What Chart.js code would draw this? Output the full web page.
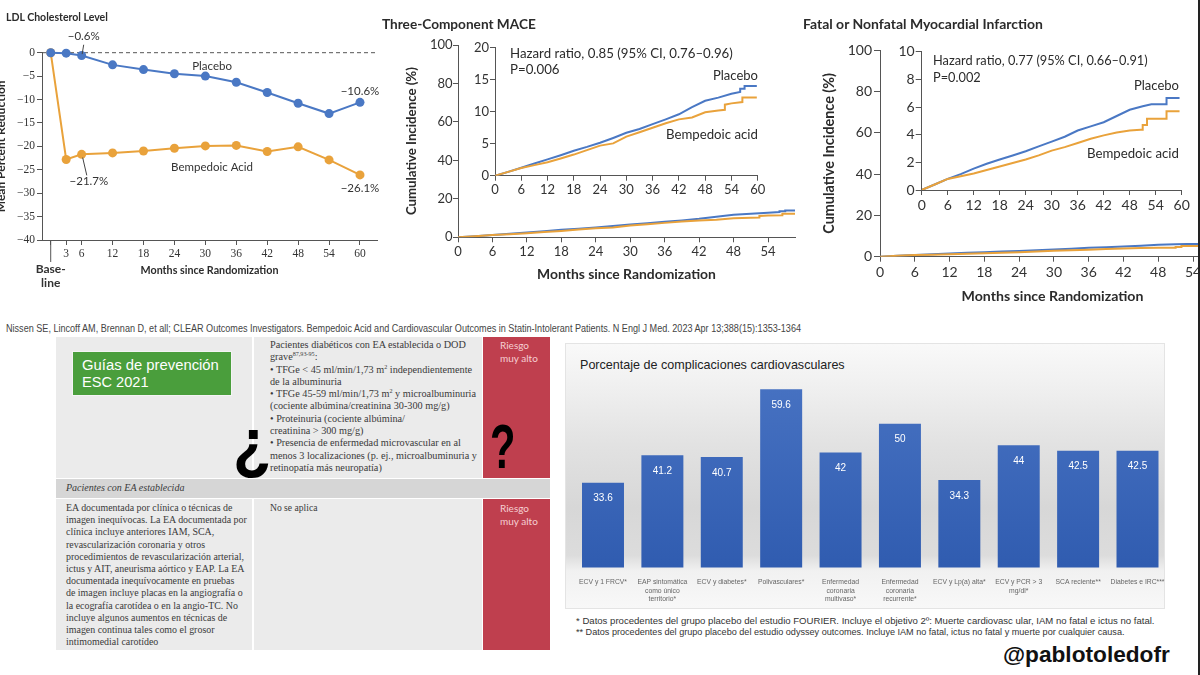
<!DOCTYPE html>
<html lang="es">
<head>
<meta charset="utf-8">
<title>CLEAR Outcomes y complicaciones cardiovasculares</title>
<script src="https://cdn.jsdelivr.net/npm/chart.js@4.4.1/dist/chart.umd.min.js"></script>
<style>
  html, body { margin: 0; padding: 0; background: #fff; }
  body { position: relative; width: 1200px; height: 675px; overflow: hidden; font-family: Lato, "Liberation Sans", sans-serif; color: #2b2b2b; }
  canvas, .t, .box, .lines, .glyph { position: absolute; }
  .t { white-space: nowrap; line-height: 1; transform: translateY(-50%); }
  .b { font-weight: bold; }
  .arial { font-family: "Liberation Sans", Arial, sans-serif; }
  .narrow { font-family: "Liberation Sans Narrow", "Arial Narrow", "Liberation Sans", sans-serif; transform-origin: left center; }
  .lines { font-family: "Liberation Serif", "DejaVu Serif", serif; color: #3a3a3a; white-space: nowrap; font-size: 10px; }
  .lines sup { font-size: 0.6em; line-height: 0; }
  .red { background: #bf3f4e; }
  .grey { background: #ebebeb; }
  .risk { font-family: Lato, sans-serif; color: #f6cfd3; font-size: 10px; line-height: 12.5px; }
  .glyph { font-family: "Liberation Sans", Arial, sans-serif; font-weight: bold; line-height: 1; color: #000; transform-origin: left top; }
</style>
</head>
<body>

<!-- CLEAR Outcomes charts -->
<canvas id="ldlChart" width="402" height="300" style="left:-12px;top:0"></canvas>
<canvas id="maceMain" width="420" height="270" style="left:380px;top:30px"></canvas>
<canvas id="maceInset" width="340" height="170" style="left:440px;top:35px"></canvas>
<canvas id="miMain" width="425" height="285" style="left:800px;top:30px"></canvas>
<canvas id="miInset" width="345" height="185" style="left:860px;top:35px"></canvas>

<div class="t b" data-w="102" style="left:6px;top:17px;font-size:12px">LDL Cholesterol Level</div>
<div class="t b" data-w="154" style="left:382px;top:25px;font-size:14px">Three-Component MACE</div>
<div class="t b" data-w="240" style="left:803px;top:24px;font-size:14px">Fatal or Nonfatal Myocardial Infarction</div>

<div class="t" id="hrMace" data-w="223" style="left:510px;top:54px;font-size:13px">Hazard ratio, 0.85 (95% CI, 0.76–0.96)</div>
<div class="t" data-like="hrMace" style="left:510px;top:70px;font-size:13px">P=0.006</div>
<div class="t" data-w="45" style="left:713px;top:76px;font-size:13px">Placebo</div>
<div class="t" data-w="92" style="left:666px;top:135px;font-size:13px">Bempedoic acid</div>

<div class="t" id="hrMi" data-w="215" style="left:933px;top:60px;font-size:13px">Hazard ratio, 0.77 (95% CI, 0.66–0.91)</div>
<div class="t" data-like="hrMi" style="left:933px;top:77px;font-size:13px">P=0.002</div>
<div class="t" data-w="45" style="left:1134px;top:86px;font-size:13px">Placebo</div>
<div class="t" data-w="92" style="left:1087px;top:154px;font-size:13px">Bempedoic acid</div>

<div class="t narrow" data-sx="795" style="left:6px;top:328px;font-size:10.5px;color:#444">Nissen SE, Lincoff AM, Brennan D, et all; CLEAR Outcomes Investigators. Bempedoic Acid and Cardiovascular Outcomes in Statin-Intolerant Patients. N Engl J Med. 2023 Apr 13;388(15):1353-1364</div>

<!-- ESC 2021 table -->
<div class="box grey" style="left:56px;top:337px;width:196px;height:141px"></div>
<div class="box grey" style="left:254px;top:337px;width:228px;height:141px"></div>
<div class="box red" style="left:483px;top:337px;width:67px;height:141px"></div>
<div class="box" style="left:56px;top:479px;width:494px;height:19px;background:#d6d6d6"></div>
<div class="box grey" style="left:56px;top:499px;width:196px;height:151px"></div>
<div class="box grey" style="left:254px;top:499px;width:228px;height:151px"></div>
<div class="box red" style="left:483px;top:499px;width:67px;height:151px"></div>

<div class="box" style="left:72px;top:351px;width:158px;height:43px;background:#4a9e3c;border:1px solid #f4f4f4"></div>
<div class="t arial" data-w="137" style="left:82px;top:365px;font-size:15px;color:#fff">Guías de prevención</div>
<div class="t arial" style="left:82px;top:382px;font-size:14.6px;color:#fff">ESC 2021</div>

<div class="lines" data-wide="207" style="left:270px;top:339px;line-height:12.3px">
  <div><span class="ln">Pacientes diabéticos con EA establecida o DOD</span></div>
  <div><span class="ln">grave<sup>87,93-95</sup>:</span></div>
  <div><span class="ln">• TFGe &lt; 45 ml/min/1,73 m<sup>2</sup> independientemente</span></div>
  <div><span class="ln">de la albuminuria</span></div>
  <div><span class="ln">• TFGe 45-59 ml/min/1,73 m<sup>2</sup> y microalbuminuria</span></div>
  <div><span class="ln">(cociente albúmina/creatinina 30-300 mg/g)</span></div>
  <div><span class="ln">• Proteinuria (cociente albúmina/</span></div>
  <div><span class="ln">creatinina &gt; 300 mg/g)</span></div>
  <div><span class="ln">• Presencia de enfermedad microvascular en al</span></div>
  <div><span class="ln">menos 3 localizaciones (p. ej., microalbuminuria y</span></div>
  <div><span class="ln">retinopatía más neuropatía)</span></div>
</div>
<div class="risk" style="position:absolute;left:500px;top:339px">Riesgo<br>muy alto</div>

<div class="lines" style="left:66px;top:482px;font-style:italic;line-height:12px">Pacientes con EA establecida</div>

<div class="lines" data-wide="181" style="left:66px;top:502px;line-height:12.2px">
  <div><span class="ln">EA documentada por clínica o técnicas de</span></div>
  <div><span class="ln">imagen inequívocas. La EA documentada por</span></div>
  <div><span class="ln">clínica incluye anteriores IAM, SCA,</span></div>
  <div><span class="ln">revascularización coronaria y otros</span></div>
  <div><span class="ln">procedimientos de revascularización arterial,</span></div>
  <div><span class="ln">ictus y AIT, aneurisma aórtico y EAP. La EA</span></div>
  <div><span class="ln">documentada inequívocamente en pruebas</span></div>
  <div><span class="ln">de imagen incluye placas en la angiografía o</span></div>
  <div><span class="ln">la ecografía carotídea o en la angio-TC. No</span></div>
  <div><span class="ln">incluye algunos aumentos en técnicas de</span></div>
  <div><span class="ln">imagen continua tales como el grosor</span></div>
  <div><span class="ln">intimomedial carotídeo</span></div>
</div>
<div class="lines" style="left:270px;top:502px;line-height:12.2px;font-size:9.6px">No se aplica</div>
<div class="risk" style="position:absolute;left:500px;top:502px">Riesgo<br>muy alto</div>

<div class="glyph" style="left:233px;top:408px;font-size:68px;transform:scaleX(0.92)">¿</div>
<div class="glyph" style="left:490px;top:415px;font-size:63px;transform:scaleX(0.66)">?</div>

<!-- bar chart panel -->
<div class="box" style="left:565px;top:343px;width:598px;height:264px;border:1px solid #e4e4e4;
  background:linear-gradient(180deg,#f9f9f9 0%,#f1f1f1 14%,#e2e2e2 38%,#d7d7d7 62%,#dcdcdc 80%,#f1f1f1 86%,#f8f8f8 100%)"></div>
<div class="t arial" data-w="265" style="left:580px;top:365px;font-size:13px;color:#222">Porcentaje de complicaciones cardiovasculares</div>
<canvas id="barChart" width="610" height="265" style="left:565px;top:343px"></canvas>
<div class="t arial" data-w="579" style="left:576px;top:620.5px;font-size:9px;color:#333">* Datos procedentes del grupo placebo del estudio FOURIER. Incluye el objetivo 2º: Muerte cardiovasc ular, IAM no fatal e ictus no fatal.</div>
<div class="t arial" data-w="549" style="left:576px;top:632.6px;font-size:9px;color:#333">** Datos procedentes del grupo placebo del estudio odyssey outcomes. Incluye IAM no fatal, ictus no fatal y muerte por cualquier causa.</div>

<div class="t arial b" data-w="167" style="left:1003px;top:654px;font-size:22px;color:#111">@pablotoledofr</div>
<div class="box" style="left:1198px;top:0;width:2px;height:675px;background:#222"></div>

<script>
// --- data ---

// LDL cholesterol, mean percent change from baseline
const ldlMonths = [0, 3, 6, 12, 18, 24, 30, 36, 42, 48, 54, 60];
const ldlPlacebo = [0, -0.1, -0.6, -2.6, -3.6, -4.5, -5.0, -6.3, -8.5, -10.8, -13.0, -10.6];
const ldlBempedoic = [0, -22.8, -21.7, -21.4, -21.0, -20.4, -19.9, -19.8, -21.1, -20.1, -22.9, -26.1];

// three-component MACE, cumulative incidence (%)
const macePlaceboMonths = [0, 3, 6, 9, 12, 15, 18, 21, 24, 27, 30, 33, 36, 39, 42, 45, 48, 51, 54, 56, 56, 57, 57, 59.8];
const macePlacebo = [0, 0.6, 1.25, 1.9, 2.55, 3.2, 3.9, 4.5, 5.15, 5.9, 6.7, 7.3, 8.05, 8.8, 9.6, 10.7, 11.7, 12.2, 12.8, 13.1, 13.6, 13.6, 14.0, 14.0];
const maceBempedoicMonths = [0, 3, 6, 9, 12, 15, 18, 21, 24, 27, 30, 33, 36, 39, 42, 45, 48, 51, 52.5, 52.5, 54, 56.5, 56.5, 59.8];
const maceBempedoic = [0, 0.6, 1.2, 1.65, 2.1, 2.7, 3.3, 4.0, 4.7, 5.05, 6.1, 6.8, 7.5, 8.2, 8.8, 9.1, 9.9, 10.2, 10.3, 11.1, 11.3, 11.5, 12.2, 12.2];

// fatal or nonfatal MI, cumulative incidence (%)
const miPlaceboMonths = [0, 3, 6, 9, 12, 15, 18, 21, 24, 27, 30, 33, 36, 39, 42, 45, 48, 51, 53, 56.5, 56.5, 59.5];
const miPlacebo = [0, 0.4, 0.8, 1.15, 1.55, 1.9, 2.2, 2.5, 2.8, 3.15, 3.5, 3.85, 4.3, 4.6, 4.9, 5.35, 5.8, 6.05, 6.2, 6.2, 6.65, 6.65];
const miBempedoicMonths = [0, 3, 6, 9, 12, 15, 18, 21, 24, 27, 30, 33, 36, 39, 42, 45, 48, 50.5, 51, 51, 52, 52, 56.5, 56.5, 59.5];
const miBempedoic = [0, 0.4, 0.8, 1.0, 1.2, 1.45, 1.7, 1.95, 2.2, 2.5, 2.85, 3.1, 3.4, 3.7, 3.95, 4.15, 4.3, 4.35, 4.35, 4.7, 4.7, 5.15, 5.15, 5.7, 5.7];

const kmTicksMain = [0, 6, 12, 18, 24, 30, 36, 42, 48, 54];
const kmTicksInset = [0, 6, 12, 18, 24, 30, 36, 42, 48, 54, 60];

// porcentaje de complicaciones cardiovasculares
const complicationLabels = [
  ['ECV y 1 FRCV*'],
  ['EAP sintomática', 'como único', 'territorio*'],
  ['ECV y diabetes*'],
  ['Polivasculares*'],
  ['Enfermedad', 'coronaria', 'multivaso*'],
  ['Enfermedad', 'coronaria', 'recurrente*'],
  ['ECV y Lp(a) alta*'],
  ['ECV y PCR > 3', 'mg/dl*'],
  ['SCA reciente**'],
  ['Diabetes e IRC***']
];
const complicationValues = [33.6, 41.2, 40.7, 59.6, 42, 50, 34.3, 44, 42.5, 42.5];

// text notes on the LDL panel, in data units (month, percent)
const ldlNotes = [
  { text: '−0.6%', month: 6.4, value: 3.4 },
  { text: 'Placebo', month: 31.3, value: -2.9 },
  { text: '−10.6%', month: 60, value: -8.2 },
  { text: 'Bempedoic Acid', month: 31.3, value: -24.4 },
  { text: '−21.7%', month: 7.4, value: -27.4 },
  { text: '−26.1%', month: 60, value: -28.9 }
];
const ldlLeaders = [
  { from: [6.1, -0.3], to: [6.4, 1.7] },
  { from: [6.2, -22.4], to: [7.0, -26.2] }
];

// --- helpers ---

document.querySelectorAll('[data-w]').forEach(function(el) {
  const target = parseFloat(el.dataset.w);
  const size = parseFloat(getComputedStyle(el).fontSize);
  el.style.fontSize = (size * target / el.getBoundingClientRect().width) + 'px';
});
document.querySelectorAll('[data-like]').forEach(function(el) {
  el.style.fontSize = document.getElementById(el.dataset.like).style.fontSize;
});
document.querySelectorAll('[data-sx]').forEach(function(el) {
  const k = parseFloat(el.dataset.sx) / el.getBoundingClientRect().width;
  el.style.transform = 'translateY(-50%) scaleX(' + k + ')';
});
document.querySelectorAll('[data-wide]').forEach(function(block) {
  const target = parseFloat(block.dataset.wide);
  const size = parseFloat(getComputedStyle(block).fontSize);
  let widest = 0;
  block.querySelectorAll('.ln').forEach(s => { widest = Math.max(widest, s.getBoundingClientRect().width); });
  block.style.fontSize = (size * target / widest) + 'px';
});

const measureCtx = document.createElement('canvas').getContext('2d');
function fitSize(text, weight, family, width) {
  measureCtx.font = weight + ' 20px ' + family;
  return 20 * width / measureCtx.measureText(text).width;
}

function boxSize(size) {
  return function(scale) {
    if (scale.isHorizontal()) scale.height = size; else scale.width = size;
    scale.paddingLeft = 0; scale.paddingRight = 0; scale.paddingTop = 0; scale.paddingBottom = 0;
  };
}
function fixedTicks(values) {
  return function(scale) { scale.ticks = values.map(v => ({ value: v })); };
}
function pairs(xs, ys) {
  return xs.map((x, i) => ({ x: x, y: ys[i] }));
}

const SANS = 'Lato, "Liberation Sans", sans-serif';
const SERIF = '"Liberation Serif", "DejaVu Serif", serif';
const blue = '#4a78c4';
const orange = '#e9a23b';
const axisColor = '#555';

Chart.defaults.animation = false;
Chart.defaults.responsive = false;
Chart.defaults.devicePixelRatio = 1;
Chart.defaults.plugins.legend.display = false;
Chart.defaults.plugins.tooltip.enabled = false;
Chart.defaults.color = '#333';
Chart.defaults.font.family = SANS;

// --- LDL cholesterol ---

const ldlPlugin = {
  id: 'ldlNotes',
  beforeDatasetsDraw(chart) {
    const { ctx, chartArea, scales: { y } } = chart;
    ctx.save();
    ctx.strokeStyle = '#555';
    ctx.lineWidth = 1;
    ctx.setLineDash([4, 3]);
    ctx.beginPath();
    ctx.moveTo(chartArea.left, y.getPixelForValue(0));
    ctx.lineTo(chartArea.right, y.getPixelForValue(0));
    ctx.stroke();
    ctx.restore();
  },
  afterDraw(chart) {
    const { ctx, scales: { x, y } } = chart;
    ctx.save();
    ctx.strokeStyle = axisColor;
    ctx.lineWidth = 1;
    const bx = x.getPixelForValue(0);
    ctx.beginPath();
    ctx.moveTo(bx, y.bottom);
    ctx.lineTo(bx, y.bottom + 22);
    ctx.stroke();

    ctx.strokeStyle = '#444';
    ldlLeaders.forEach(function(l) {
      ctx.beginPath();
      ctx.moveTo(x.getPixelForValue(l.from[0]), y.getPixelForValue(l.from[1]));
      ctx.lineTo(x.getPixelForValue(l.to[0]), y.getPixelForValue(l.to[1]));
      ctx.stroke();
    });

    ctx.fillStyle = '#333';
    ctx.font = '11.5px ' + SANS;
    ctx.textAlign = 'center';
    ctx.textBaseline = 'middle';
    ldlNotes.forEach(n => ctx.fillText(n.text, x.getPixelForValue(n.month), y.getPixelForValue(n.value)));
    ctx.restore();
  }
};

new Chart(document.getElementById('ldlChart'), {
  type: 'line',
  data: {
    datasets: [
      { data: pairs(ldlMonths, ldlPlacebo), borderColor: blue, backgroundColor: blue, borderWidth: 2,
        pointRadius: 4.5, pointBorderWidth: 0, clip: false },
      { data: pairs(ldlMonths, ldlBempedoic), borderColor: orange, backgroundColor: orange, borderWidth: 2,
        pointRadius: 4.5, pointBorderWidth: 0, clip: false }
    ]
  },
  options: {
    layout: { padding: { left: 0, top: 52.7, right: 13, bottom: 0 } },
    scales: {
      x: {
        type: 'linear', min: -1.69, max: 63.3,
        afterBuildTicks: fixedTicks(ldlMonths),
        afterFit: boxSize(60),
        grid: { drawOnChartArea: false, tickLength: 5, color: axisColor },
        border: { color: axisColor },
        ticks: {
          autoSkip: false, maxRotation: 0, minRotation: 0,
          padding: 2.4,
          color: '#333',
          callback: v => v === 0 ? ['', 'Base-', 'line'] : String(v),
          font: ctx => (ctx.tick && ctx.tick.value === 0)
            ? { family: SANS, size: 12, weight: 'bold' }
            : { family: SERIF, size: 11.5 }
        },
        title: {
          display: true, text: 'Months since Randomization', color: '#2b2b2b',
          font: { family: SANS, weight: 'bold', size: fitSize('Months since Randomization', 'bold', 'Lato', 138) },
          padding: { top: 0, bottom: 22.8 }
        }
      },
      y: {
        min: -40, max: 0,
        afterFit: boxSize(54),
        grid: { drawOnChartArea: false, tickLength: 5, color: axisColor },
        border: { color: axisColor },
        ticks: { stepSize: 5, padding: 2, color: '#333', font: { family: SERIF, size: 11.5 },
                 callback: v => String(v).replace('-', '−') },
        title: {
          display: true, text: 'Mean Percent Reduction', color: '#2b2b2b',
          font: { family: SANS, weight: 'bold', size: 12 },
          padding: { top: 5.8, bottom: 0 }
        }
      }
    }
  },
  plugins: [ldlPlugin]
});

// --- Kaplan-Meier style panels ---

function kmChart(id, placebo, bempedoic, o) {
  const titleFont = size => ({ family: SANS, weight: 'bold', size: size });
  return new Chart(document.getElementById(id), {
    type: 'line',
    data: {
      datasets: [
        { data: bempedoic, borderColor: orange, borderWidth: 2, pointRadius: 0, tension: 0 },
        { data: placebo, borderColor: blue, borderWidth: 2, pointRadius: 0, tension: 0 }
      ]
    },
    options: {
      layout: { padding: o.padding },
      scales: {
        x: {
          type: 'linear', min: 0, max: o.xMax,
          afterBuildTicks: fixedTicks(o.xTicks),
          afterFit: boxSize(o.xBox),
          grid: { drawOnChartArea: false, tickLength: 5, color: axisColor },
          border: { color: axisColor },
          ticks: { autoSkip: false, maxRotation: 0, padding: o.xPad, font: { size: o.tick }, color: '#333' },
          title: o.xTitle
            ? { display: true, text: 'Months since Randomization', color: '#2b2b2b',
                font: titleFont(fitSize('Months since Randomization', 'bold', 'Lato', o.xTitle.width)),
                padding: { top: 0, bottom: o.xTitle.pad } }
            : { display: false }
        },
        y: {
          min: 0, max: o.yMax,
          afterBuildTicks: fixedTicks(o.yTicks),
          afterFit: boxSize(o.yBox),
          grid: { drawOnChartArea: false, tickLength: o.yTickLen, color: axisColor },
          border: { color: axisColor },
          ticks: { autoSkip: false, padding: o.yPad, font: { size: o.tick }, color: '#333' },
          title: o.yTitle
            ? { display: true, text: 'Cumulative Incidence (%)', color: '#2b2b2b',
                font: titleFont(fitSize('Cumulative Incidence (%)', 'bold', 'Lato', o.yTitle.width)),
                padding: { top: o.yTitle.pad, bottom: 0 } }
            : { display: false }
        }
      }
    }
  });
}

kmChart('maceMain', pairs(macePlaceboMonths, macePlacebo), pairs(maceBempedoicMonths, maceBempedoic), {
  padding: { left: 0, top: 15, right: 5, bottom: 0 },
  xMax: 58.7, xTicks: kmTicksMain, xBox: 62.7, xPad: 1.6,
  yMax: 100, yTicks: [0, 20, 40, 60, 80, 100], yBox: 78, yTickLen: 5, yPad: 0.5,
  tick: 13,
  xTitle: { width: 179, pad: 16.9 },
  yTitle: { width: 148, pad: 24 }
});

kmChart('maceInset', pairs(macePlaceboMonths, macePlacebo), pairs(maceBempedoicMonths, maceBempedoic), {
  padding: { left: 0, top: 12.7, right: 22.3, bottom: 0 },
  xMax: 60, xTicks: kmTicksInset, xBox: 29.3, xPad: 1.5,
  yMax: 20, yTicks: [0, 5, 10, 15, 20], yBox: 55, yTickLen: 5, yPad: 1,
  tick: 13
});

kmChart('miMain', pairs(miPlaceboMonths, miPlacebo), pairs(miBempedoicMonths, miBempedoic), {
  padding: { left: 0, top: 20, right: 0, bottom: 0 },
  xMax: 59.52, xTicks: kmTicksMain, xBox: 58.3, xPad: 2.6,
  yMax: 100, yTicks: [0, 20, 40, 60, 80, 100], yBox: 80, yTickLen: 6, yPad: 2,
  tick: 14,
  xTitle: { width: 182, pad: 9.9 },
  yTitle: { width: 161, pad: 21 }
});

kmChart('miInset', pairs(miPlaceboMonths, miPlacebo), pairs(miBempedoicMonths, miBempedoic), {
  padding: { left: 0, top: 16.7, right: 23.3, bottom: 0 },
  xMax: 60, xTicks: kmTicksInset, xBox: 30, xPad: 1.6,
  yMax: 10, yTicks: [0, 2, 4, 6, 8, 10], yBox: 61.7, yTickLen: 6, yPad: 1,
  tick: 14
});

// --- porcentaje de complicaciones cardiovasculares ---

const barValuePlugin = {
  id: 'barValues',
  afterDatasetsDraw(chart) {
    const { ctx } = chart;
    const meta = chart.getDatasetMeta(0);
    ctx.save();
    ctx.fillStyle = '#fff';
    ctx.font = '10px "Liberation Sans", Arial, sans-serif';
    ctx.textAlign = 'center';
    ctx.textBaseline = 'middle';
    meta.data.forEach((bar, i) => ctx.fillText(String(complicationValues[i]), bar.x, bar.y + 16));
    ctx.restore();
  }
};

new Chart(document.getElementById('barChart'), {
  type: 'bar',
  data: {
    labels: complicationLabels,
    datasets: [{
      data: complicationValues,
      categoryPercentage: 1,
      barPercentage: 0.707,
      backgroundColor: function(context) {
        const area = context.chart.chartArea;
        if (!area) return '#3b66b8';
        const g = context.chart.ctx.createLinearGradient(0, area.top, 0, area.bottom);
        g.addColorStop(0, '#4772c2');
        g.addColorStop(1, '#305cb0');
        return g;
      }
    }]
  },
  options: {
    layout: { padding: { left: 8.3, top: 37.5, right: 7.8, bottom: 0 } },
    scales: {
      x: {
        afterFit: boxSize(40.5),
        grid: { display: false },
        border: { display: false },
        ticks: {
          autoSkip: false, maxRotation: 0, padding: 2, color: '#666',
          font: { family: '"Liberation Sans", Arial, sans-serif', size: 6.8, lineHeight: 1.3 }
        }
      },
      y: { display: false, min: 10, max: 62 }
    }
  },
  plugins: [barValuePlugin]
});
</script>
</body>
</html>
